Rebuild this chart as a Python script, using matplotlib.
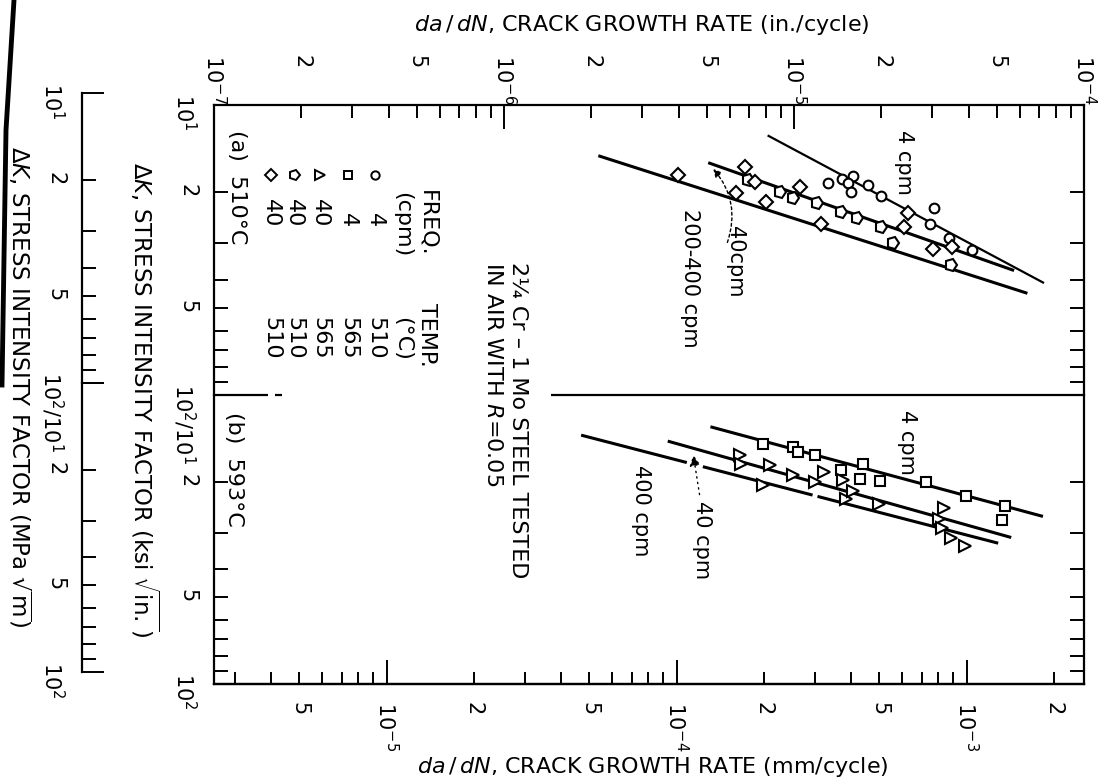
import numpy as np
import matplotlib
matplotlib.use("Agg")
import matplotlib.pyplot as plt
from matplotlib.markers import MarkerStyle
from matplotlib.transforms import Affine2D
from matplotlib.ticker import FixedLocator, FixedFormatter, NullLocator
from matplotlib.lines import Line2D

plt.rcParams['font.family'] = ['DejaVu Sans']
plt.rcParams['mathtext.fontset'] = 'dejavusans'

# ---------------- data ----------------
x_range = (1e-7, 1e-4)            # da/dN, in./cycle
dk_range = (10, 100)              # dK, ksi sqrt(in.)
KSI_TO_MPA = 1.0988
IN_TO_MM = 25.4

in_major = [1e-7, 1e-6, 1e-5, 1e-4]
in_major_labels = [r'$10^{-7}$', r'$10^{-6}$', r'$10^{-5}$', r'$10^{-4}$']
in_minor = [2e-7, 3e-7, 4e-7, 5e-7, 6e-7, 7e-7, 8e-7, 9e-7,
            2e-6, 3e-6, 4e-6, 5e-6, 6e-6, 7e-6, 8e-6, 9e-6,
            2e-5, 3e-5, 4e-5, 5e-5, 6e-5, 7e-5, 8e-5, 9e-5]
in_minor_labels = ['2', '', '', '5', '', '', '', ''] * 3

mm_major = [1e-5, 1e-4, 1e-3]
mm_major_labels = [r'$10^{-5}$', r'$10^{-4}$', r'$10^{-3}$']
mm_minor = [3e-6, 4e-6, 5e-6, 6e-6, 7e-6, 8e-6, 9e-6,
            2e-5, 3e-5, 4e-5, 5e-5, 6e-5, 7e-5, 8e-5, 9e-5,
            2e-4, 3e-4, 4e-4, 5e-4, 6e-4, 7e-4, 8e-4, 9e-4,
            2e-3]
mm_minor_labels = ['', '', '5', '', '', '', '',
                   '2', '', '', '5', '', '', '', '',
                   '2', '', '', '5', '', '', '', '',
                   '2']

dk_major = [10, 100]
dk_minor = [20, 30, 40, 50, 60, 70, 80, 90]
dk_minor_labels = ['2', '', '', '5', '', '', '', '']
a_dk_major_labels = [r'$10^1$', r'$10^2/10^1$']
b_dk_major_labels = ['', r'$10^2$']

# panel (a) 510 C
a_4cpm_dadn = [1.308e-5, 1.466e-5, 1.594e-5, 1.532e-5, 1.574e-5, 1.796e-5,
               1.997e-5, 3.046e-5, 2.944e-5, 3.411e-5, 4.124e-5]
a_4cpm_dk = [18.62, 18.04, 17.58, 18.62, 19.91, 18.87, 20.60, 22.71, 25.72, 28.68, 31.62]
a_40pent_dadn = [6.94e-6, 8.97e-6, 9.91e-6, 1.199e-5, 1.454e-5, 1.646e-5,
                 1.997e-5, 2.202e-5, 3.476e-5]
a_40pent_dk = [18.14, 19.91, 20.98, 21.83, 23.33, 24.59, 26.28, 29.99, 35.62]
a_40diam_dadn = [3.99e-6, 6.76e-6, 7.32e-6, 6.30e-6, 7.99e-6, 1.045e-5,
                 1.241e-5, 2.465e-5, 2.402e-5, 3.022e-5, 3.503e-5]
a_40diam_dk = [17.44, 16.40, 18.38, 20.07, 21.55, 19.13, 25.72, 23.63, 26.41, 31.45, 30.81]

a_fit4_dadn, a_fit4_dk = [8.11e-6, 7.28e-5], [12.73, 41.11]
a_fit40_dadn, a_fit40_dk = [5.06e-6, 5.74e-5], [15.81, 37.22]
a_fit200_dadn, a_fit200_dk = [2.115e-6, 6.38e-5], [14.96, 44.6]

# panel (b) 593 C
b_4cpm_dadn = [7.82e-6, 9.91e-6, 1.031e-5, 1.178e-5, 1.454e-5, 1.726e-5,
               1.691e-5, 1.981e-5, 2.851e-5, 3.915e-5, 5.34e-5, 5.21e-5]
b_4cpm_dk = [14.72, 15.12, 15.73, 16.15, 18.21, 17.36, 19.46, 19.84, 20.0, 22.42, 24.29, 27.16]
b_40cpm_dadn = [6.50e-6, 6.59e-6, 8.24e-6, 9.91e-6, 1.178e-5, 1.274e-5, 1.473e-5,
                7.82e-6, 1.513e-5, 1.594e-5, 1.970e-5, 3.297e-5, 3.170e-5,
                3.238e-5, 3.476e-5, 3.893e-5]
b_40cpm_dk = [16.15, 17.26, 17.50, 18.96, 20.0, 18.47, 19.73, 20.54, 22.84, 21.49,
              23.77, 24.55, 26.80, 28.80, 31.20, 33.18]

b_fit4_dadn, b_fit4_dk = [5.15e-6, 7.22e-5], [12.88, 26.31]
b_fit40_dadn, b_fit40_dk = [3.67e-6, 5.61e-5], [14.44, 31.12]
b_fit400_dadn_segs = [[1.845e-6, 4.27e-6], [4.85e-6, 1.159e-5], [1.205e-5, 5.06e-5]]
b_fit400_dk_segs = [[13.77, 17.13], [17.70, 22.20], [22.43, 32.57]]

a_arrow_tail, a_arrow_head = (5.85e-6, 30.4), (5.19e-6, 16.32)
b_arrow_tail, b_arrow_head = (4.74e-6, 22.6), (4.48e-6, 15.77)

legend_freq = ['4', '4', '40', '40', '40']
legend_temp = ['510', '565', '565', '510', '510']

# ---------------- figure ----------------
W, H = 1118, 782
fig = plt.figure(figsize=(W / 100, H / 100), dpi=100, facecolor='white')


def fx(p):
    return p / W


def fy(p):
    return 1 - p / H


L, R, T, M, B = 214, 1084, 105, 395, 684
LW_SP = 1.6
TICK_FS = 15
TXT_FS = 15

axa = fig.add_axes([fx(L), fy(M), fx(R) - fx(L), fy(T) - fy(M)])
axb = fig.add_axes([fx(L), fy(B), fx(R) - fx(L), fy(M) - fy(B)])

for ax, majlab in ((axa, a_dk_major_labels), (axb, b_dk_major_labels)):
    ax.set_xscale('log')
    ax.set_yscale('log')
    ax.set_xlim(*x_range)
    ax.set_ylim(dk_range[1], dk_range[0])
    ax.patch.set_alpha(0)
    for s in ax.spines.values():
        s.set_linewidth(LW_SP)
    ax.yaxis.set_major_locator(FixedLocator(dk_major))
    ax.yaxis.set_major_formatter(FixedFormatter(majlab))
    ax.yaxis.set_minor_locator(FixedLocator(dk_minor))
    ax.yaxis.set_minor_formatter(FixedFormatter(dk_minor_labels))
    ax.tick_params(axis='y', which='both', direction='in', left=True, right=True,
                   labelleft=True, labelright=False, labelrotation=-90,
                   labelsize=TICK_FS, pad=12, width=1.4)
    ax.tick_params(axis='y', which='major', length=16)
    ax.tick_params(axis='y', which='minor', length=10)

axa.spines['bottom'].set_visible(False)
axb.spines['top'].set_visible(False)

# top axis (in./cycle)
axa.xaxis.set_major_locator(FixedLocator(in_major))
axa.xaxis.set_major_formatter(FixedFormatter(in_major_labels))
axa.xaxis.set_minor_locator(FixedLocator(in_minor))
axa.xaxis.set_minor_formatter(FixedFormatter(in_minor_labels))
axa.tick_params(axis='x', which='both', direction='in', top=True, bottom=False,
                labeltop=True, labelbottom=False, labelrotation=-90,
                labelsize=TICK_FS, pad=36, width=1.4)
axa.tick_params(axis='x', which='major', length=17)
axa.tick_params(axis='x', which='minor', length=9)
# top labels start (text top) at a common line, as in the original lettering
for tk in axa.xaxis.get_major_ticks(len(in_major)) + axa.xaxis.get_minor_ticks(len(in_minor)):
    tk.label2.set_verticalalignment('top')

axb.xaxis.set_major_locator(NullLocator())
axb.xaxis.set_minor_locator(NullLocator())
axb.tick_params(axis='x', which='both', bottom=False, top=False, labelbottom=False)

# bottom axis (mm/cycle)
secb = axb.secondary_xaxis('bottom', functions=(lambda v: v * IN_TO_MM, lambda v: v / IN_TO_MM))
secb.xaxis.set_major_locator(FixedLocator(mm_major))
secb.xaxis.set_major_formatter(FixedFormatter(mm_major_labels))
secb.xaxis.set_minor_locator(FixedLocator(mm_minor))
secb.xaxis.set_minor_formatter(FixedFormatter(mm_minor_labels))
secb.tick_params(axis='x', which='both', direction='in', labelrotation=-90,
                 labelsize=TICK_FS, pad=13, width=1.4)
secb.tick_params(axis='x', which='major', length=17)
secb.tick_params(axis='x', which='minor', length=9)
secb.spines['bottom'].set_linewidth(LW_SP)

# divider line between panels (with gap for the title text)
for x0, x1 in ((0.0, 0.062), (0.070, 0.078), (0.387, 1.0)):
    axa.plot([x0, x1], [0, 0], transform=axa.transAxes, color='black', lw=LW_SP,
             clip_on=False, solid_capstyle='butt')


# MPa sqrt(m) scale on the far left
def mpa_axis(top_px, bot_px, labels):
    top = top_px - (bot_px - top_px) * np.log10(KSI_TO_MPA)
    ax = fig.add_axes([fx(82), fy(bot_px), 0.002, fy(top) - fy(bot_px)])
    ax.set_yscale('log')
    ax.set_ylim(dk_range[1] * KSI_TO_MPA, dk_range[0])
    ax.patch.set_alpha(0)
    for k in ('top', 'bottom', 'right'):
        ax.spines[k].set_visible(False)
    ax.spines['left'].set_linewidth(LW_SP)
    ax.spines['left'].set_bounds(dk_major[0], dk_major[1])
    ax.xaxis.set_visible(False)
    ax.yaxis.set_major_locator(FixedLocator(dk_major))
    ax.yaxis.set_major_formatter(FixedFormatter(labels))
    ax.yaxis.set_minor_locator(FixedLocator(dk_minor))
    ax.yaxis.set_minor_formatter(FixedFormatter(dk_minor_labels))
    ax.tick_params(axis='y', which='both', direction='in', left=True, right=False,
                   labelrotation=-90, labelsize=TICK_FS, pad=12, width=1.4)
    ax.tick_params(axis='y', which='major', length=16)
    ax.tick_params(axis='y', which='minor', length=10)
    return ax


mpa_axis(T, M, a_dk_major_labels)
mpa_axis(M, B, b_dk_major_labels)

# ---------------- marks ----------------
pent_r = MarkerStyle('p', transform=Affine2D().rotate_deg(-90))
mk = dict(ls='none', mfc='white', mec='black', mew=1.5, zorder=4, clip_on=False)
lk = dict(color='black', solid_capstyle='butt', zorder=3)

axa.plot(a_fit4_dadn, a_fit4_dk, lw=1.6, **lk)
axa.plot(a_fit40_dadn, a_fit40_dk, lw=2.2, **lk)
axa.plot(a_fit200_dadn, a_fit200_dk, lw=2.2, **lk)
axa.plot(a_4cpm_dadn, a_4cpm_dk, marker='o', ms=7, **mk)
axa.plot(a_40pent_dadn, a_40pent_dk, marker=pent_r, ms=9, **mk)
axa.plot(a_40diam_dadn, a_40diam_dk, marker='D', ms=7, **mk)

axb.plot(b_fit4_dadn, b_fit4_dk, lw=2.2, **lk)
axb.plot(b_fit40_dadn, b_fit40_dk, lw=2.2, **lk)
for xs, ys in zip(b_fit400_dadn_segs, b_fit400_dk_segs):
    axb.plot(xs, ys, lw=2.2, **lk)
axb.plot(b_4cpm_dadn, b_4cpm_dk, marker='s', ms=7, **mk)
axb.plot(b_40cpm_dadn, b_40cpm_dk, marker='>', ms=8, **mk)

# arrows
axa.annotate('', xy=a_arrow_head, xytext=a_arrow_tail,
             arrowprops=dict(arrowstyle='-|>', lw=1.0, ls=(0, (2, 2)), color='black',
                             connectionstyle='arc3,rad=0.3', mutation_scale=12))
axb.annotate('', xy=b_arrow_head, xytext=b_arrow_tail,
             arrowprops=dict(arrowstyle='-|>', lw=1.0, ls=(0, (1, 3)), color='black',
                             mutation_scale=16))

# in-panel annotations
rt = dict(rotation=-90, ha='center', va='center', fontsize=TXT_FS)
axa.text(2.40e-5, 15.73, '4 cpm', **rt)
axa.text(6.25e-6, 34.78, '40cpm', **rt)
axa.text(4.37e-6, 39.5, '200-400 cpm', **rt)
axb.text(2.46e-5, 14.56, '4 cpm', **rt)
axb.text(4.81e-6, 31.87, '40 cpm', **rt)
axb.text(2.97e-6, 25.08, '400 cpm', **rt)

# panel labels and title
ft = dict(rotation=-90, ha='center', va='top', fontsize=16)
fig.text(fx(237), fy(130), '(a)  510°C', **ft)
fig.text(fx(234), fy(412), '(b)  593°C', **ft)
fig.text(fx(518), fy(262), '2¼ Cr – 1 Mo STEEL TESTED', **ft)
fig.text(fx(493), fy(262), r'IN AIR WITH $R$=0.05', **ft)

# legend table
fig.text(fx(427), fy(190), 'FREQ.', **ft)
fig.text(fx(402), fy(192), '(cpm)', **ft)
fig.text(fx(427), fy(303), 'TEMP.', **ft)
fig.text(fx(402), fy(317), '(°C)', **ft)
leg_x = [375, 348, 320, 294, 271]
leg_mk = [('o', 6), ('s', 6), ('>', 7), (pent_r, 8), ('D', 6)]
for xp, (m, s), fr, tp in zip(leg_x, leg_mk, legend_freq, legend_temp):
    fig.add_artist(Line2D([fx(xp)], [fy(175)], marker=m, ms=s, ls='none', mfc='white',
                          mec='black', mew=1.4, transform=fig.transFigure))
    fig.text(fx(xp), fy(227), fr, rotation=-90, ha='center', va='bottom', fontsize=16)
    fig.text(fx(xp), fy(317), tp, rotation=-90, ha='center', va='top', fontsize=16)

# axis titles
fig.text(fx(642), fy(25), r'$\mathit{da\,/\,dN}$, CRACK GROWTH RATE (in./cycle)',
         ha='center', va='center', fontsize=16)
fig.text(fx(653), fy(767), r'$\mathit{da\,/\,dN}$, CRACK GROWTH RATE (mm/cycle)',
         ha='center', va='center', fontsize=16)
fig.text(fx(145), fy(400), r'$\Delta K$, STRESS INTENSITY FACTOR (ksi $\sqrt{\mathrm{in.}}$)',
         rotation=-90, ha='center', va='center', fontsize=16.5)
fig.text(fx(20), fy(387), r'$\Delta K$, STRESS INTENSITY FACTOR (MPa $\sqrt{\mathrm{m}}$)',
         rotation=-90, ha='center', va='center', fontsize=16.5)

# page edge (binding shadow)
fig.add_artist(Line2D([fx(14), fx(6), fx(2)], [fy(0), fy(130), fy(385)], lw=3.5,
                      color='black', transform=fig.transFigure))

fig.savefig('out.png', dpi=100, facecolor='white')
